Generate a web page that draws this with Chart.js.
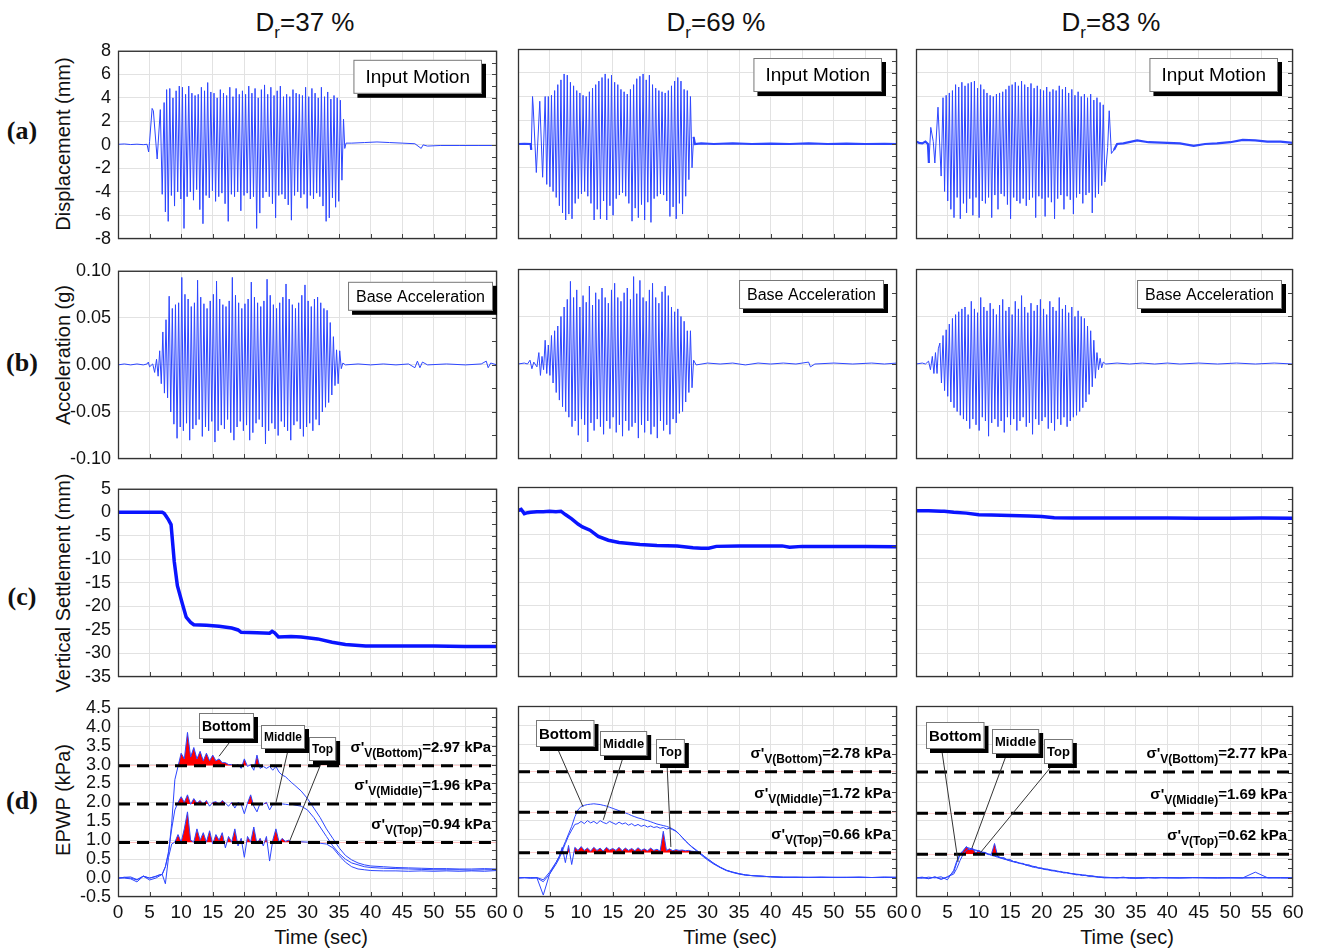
<!DOCTYPE html>
<html>
<head>
<meta charset="utf-8">
<script src="https://cdn.jsdelivr.net/npm/chart.js@4.4.1/dist/chart.umd.min.js"></script>
<style>
  body { margin: 0; background: #fff; width: 1320px; height: 948px; position: relative; overflow: hidden;
         font-family: "Liberation Sans", Arial, sans-serif; color: #111; }
  canvas { position: absolute; }
  .txt { position: absolute; white-space: nowrap; transform: translate(-50%, -50%); }
  .ytitle { font-size: 20px; transform: translate(-50%, -50%) rotate(-90deg); }
  .rowlab { font-family: "Liberation Serif", serif; font-weight: bold; font-size: 26px; }
  .head { font-size: 26px; }
  .head sub { font-size: 17px; vertical-align: -0.45em; line-height: 0; }
  .xtitle { font-size: 20px; }
</style>
</head>
<body>
<div class="txt head" style="left:305px;top:22px">D<sub>r</sub>=37 %</div>
<div class="txt head" style="left:716px;top:22px">D<sub>r</sub>=69 %</div>
<div class="txt head" style="left:1111px;top:22px">D<sub>r</sub>=83 %</div>
<div class="txt rowlab" style="left:22px;top:131px">(a)</div>
<div class="txt rowlab" style="left:22px;top:363px">(b)</div>
<div class="txt rowlab" style="left:22px;top:597px">(c)</div>
<div class="txt rowlab" style="left:22px;top:801px">(d)</div>
<div class="txt ytitle" style="left:63px;top:144px">Displacement (mm)</div>
<div class="txt ytitle" style="left:63px;top:355px">Acceleration (g)</div>
<div class="txt ytitle" style="left:63px;top:583px">Vertical Settlement (mm)</div>
<div class="txt ytitle" style="left:63px;top:800px">EPWP (kPa)</div>
<div class="txt xtitle" style="left:321px;top:937px">Time (sec)</div>
<div class="txt xtitle" style="left:730px;top:937px">Time (sec)</div>
<div class="txt xtitle" style="left:1127px;top:937px">Time (sec)</div>
<script>
// ---------------- data ----------------
const HALF = 0.25; // half period of the 2 Hz shaking, s

// (a) input displacement, mm: quiet/transient parts as [t, v], steady part as alternating peaks
const dispLead37 = [[0,0.05],[1,0.08],[2,0.03],[3,0.06],[4,0.02],[4.6,0.05],[4.85,-0.6],[5.0,0.3],[5.4,3.1],[5.6,2.9],[6.2,-1.2],[6.7,3.0],[7.0,-4.2],[7.3,3.6],[7.5,-5.7]];
const dispStart37 = 7.7;
const dispPos37 = [4.7,4.8,4.0,4.6,5.0,4.9,4.3,5.0,4.4,4.2, 4.3,4.9,4.6,5.3,4.5,4.4,4.0,4.7,4.4,4.2,
  4.9,4.1,4.8,4.3,4.6,4.3,5.0,4.4,4.8,4.0, 4.7,5.1,4.3,4.9,4.2,4.6,5.0,4.1,4.3,4.1,
  4.7,4.4,4.3,4.2,4.9,4.1,4.8,4.4,4.0,4.9, 4.1,4.5,3.9,4.2,4.0];
const dispNeg37 = [-6.5,-4.3,-5.2,-4.0,-4.6,-7.1,-4.4,-4.0,-4.7,-3.8, -5.5,-6.7,-4.3,-4.5,-3.9,-4.8,-4.4,-4.1,-5.0,-6.5,
  -4.2,-4.4,-4.0,-5.6,-4.3,-4.1,-4.6,-4.4,-7.1,-5.8, -4.5,-4.0,-4.4,-5.0,-6.2,-4.3,-4.2,-4.6,-5.1,-6.4,
  -4.3,-4.0,-4.5,-4.2,-5.4,-4.3,-4.6,-4.1,-4.4,-5.2, -6.5,-6.2,-4.5,-5.3,-4.8];
const dispTail37 = [[35.2,3.8],[35.45,-3.0],[35.7,2.2],[35.9,-0.3],[36.1,0.15],[37,0.15],[39,0.2],[41,0.25],[43,0.2],[45,0.15],
  [47,0.1],[48,-0.3],[48.3,0.0],[49,-0.1],[51,-0.05],[54,-0.05],[57,-0.05],[60,-0.05]];

const dispLead69 = [[0,0.0],[1,0.02],[2,0.0],[2.1,-0.5],[2.3,4.0],[2.4,3.2],[2.9,-2.4],[3.45,3.6],[3.9,-2.8]];
const dispStart69 = 4.3;
const dispPos69 = [4.0,4.0,4.1,4.5,5.0,5.4,5.9,5.8,5.2,4.9, 4.5,4.3,4.1,4.0,4.4,4.7,5.0,5.3,5.6,5.9,
  5.5,5.8,5.2,5.0,4.6,4.4,4.2,4.6,5.0,5.5, 5.7,5.9,5.4,5.8,5.0,4.7,4.5,4.4,4.3,4.5,
  4.9,5.3,5.6,5.3,4.6,4.5,4.0];
const dispNeg69 = [-3.4,-3.6,-4.0,-4.5,-5.2,-5.8,-6.4,-5.9,-6.3,-5.0, -4.6,-4.2,-4.0,-4.4,-5.0,-6.4,-5.5,-6.3,-4.8,-6.4,
  -5.2,-6.0,-4.6,-4.3,-4.1,-4.4,-5.0,-6.5,-5.4,-6.2, -5.1,-6.4,-4.9,-6.6,-4.6,-4.4,-4.2,-4.3,-4.8,-6.1,
  -5.3,-6.3,-5.0,-5.9,-4.4,-3.0,-2.0];
const dispTail69 = [[27.8,0.6],[28.0,0.0],[29,0.05],[31,0.0],[34,0.05],[37,0.0],[40,0.03],[43,0.0],[46,0.05],[49,0.0],
  [52,0.03],[55,0.0],[58,0.02],[60,0.0]];

const dispLead83 = [[0,0.2],[0.5,0.1],[1,0.05],[1.5,0.2],[1.9,0.0],[2.05,-1.6],[2.35,1.4],[2.75,0.2],[3.0,-1.6],[3.5,3.1],[4.0,-2.7]];
const dispStart83 = 4.3;
const dispPos83 = [3.9,4.1,4.3,4.5,5.0,4.8,5.2,4.9,5.1,5.2, 5.3,4.7,5.0,4.6,4.3,4.1,4.0,4.2,4.3,4.4,
  4.6,4.9,5.0,5.2,4.9,5.3,5.0,4.8,5.1,4.7, 4.9,4.6,4.5,4.8,4.4,4.6,4.5,4.9,4.6,4.8,
  4.3,4.6,4.1,4.4,4.0,4.2,3.9,4.2,3.7,3.9, 3.5,3.3];
const dispNeg83 = [-4.0,-4.8,-5.5,-6.2,-4.5,-6.3,-5.0,-5.8,-4.6,-6.0, -4.5,-6.2,-4.8,-5.0,-4.5,-6.2,-4.3,-5.5,-4.2,-4.4,
  -5.1,-6.3,-4.5,-4.8,-5.0,-4.6,-5.2,-4.7,-4.5,-6.2, -4.4,-4.6,-6.1,-4.5,-4.9,-6.3,-4.6,-4.3,-5.5,-4.4,
  -4.7,-5.9,-4.5,-4.2,-5.0,-4.3,-4.1,-5.8,-4.5,-4.2, -3.5,-3.2];
const dispTail83 = [[30.5,-0.3],[30.75,2.8],[31.1,-0.8],[31.5,-0.5],[32,0.0],[33,0.05],[35.2,0.3],[37,0.15],[40,0.1],[42,0.05],
  [44.2,-0.15],[46,0.0],[47.9,0.05],[50,0.15],[52,0.35],[54,0.3],[55.9,0.2],[58,0.2],[60,0.1]];

// (b) base acceleration, g
const accLead37 = [[0,0],[1,0.001],[2,0],[3,0.001],[4,0],[4.6,0.001],[4.8,0.003],[5.0,-0.002],[5.5,0.001],[5.8,-0.008],
  [6.1,0.006],[6.35,-0.012],[6.6,0.015],[6.85,-0.02],[7.1,0.035],[7.35,-0.03]];
const accStart37 = 7.6;
const accPos37 = [0.048,0.073,0.06,0.064,0.066,0.093,0.075,0.07,0.062,0.066, 0.09,0.072,0.065,0.06,0.068,0.075,0.089,0.07,0.064,0.062,
  0.068,0.093,0.074,0.066,0.06,0.065,0.07,0.088,0.072,0.066, 0.062,0.068,0.091,0.074,0.064,0.06,0.066,0.072,0.086,0.07,
  0.064,0.06,0.066,0.074,0.085,0.068,0.062,0.07,0.072,0.066, 0.06,0.058,0.045,0.03];
const accNeg37 = [-0.035,-0.05,-0.063,-0.078,-0.066,-0.07,-0.062,-0.08,-0.068,-0.064, -0.058,-0.076,-0.066,-0.07,-0.06,-0.082,-0.07,-0.064,-0.068,-0.058,
  -0.072,-0.08,-0.066,-0.06,-0.07,-0.064,-0.08,-0.072,-0.062,-0.058, -0.066,-0.084,-0.07,-0.062,-0.068,-0.075,-0.06,-0.066,-0.07,-0.08,
  -0.064,-0.06,-0.068,-0.076,-0.066,-0.062,-0.07,-0.058,-0.064,-0.05, -0.045,-0.04,-0.032,-0.022];
const accTail37 = [[34.6,0.016],[34.85,-0.02],[35.1,0.015],[35.35,-0.004],[35.6,0.002],[36,0],[38,0.001],[40,0],[42,0.001],[44,0],
  [46,0.001],[47,-0.003],[47.4,0.004],[47.8,-0.003],[48.2,0.003],[49,0],[52,0.001],[55,0],[57.5,0.001],[58.3,0.004],[58.6,-0.003],[59,0.002],[60,0]];

const accLead69 = [[0,0],[1,0.001],[1.5,0],[1.9,0.004],[2.2,-0.005],[2.5,0.002],[3.0,-0.003],[3.3,0.012],[3.55,-0.012],[3.8,0.008],
  [4.05,-0.006],[4.3,0.025],[4.55,-0.01]];
const accStart69 = 4.8;
const accPos69 = [0.02,0.03,0.035,0.04,0.05,0.06,0.068,0.087,0.07,0.078, 0.06,0.072,0.065,0.082,0.062,0.075,0.068,0.08,0.07,0.064,
  0.078,0.085,0.07,0.066,0.075,0.08,0.068,0.092,0.074,0.088, 0.07,0.066,0.078,0.085,0.07,0.064,0.076,0.082,0.072,0.06,
  0.055,0.058,0.05,0.045,0.035];
const accNeg69 = [-0.012,-0.02,-0.03,-0.038,-0.045,-0.05,-0.056,-0.066,-0.06,-0.075, -0.058,-0.064,-0.082,-0.062,-0.07,-0.058,-0.066,-0.074,-0.06,-0.068,
  -0.056,-0.072,-0.064,-0.076,-0.06,-0.07,-0.066,-0.062,-0.078,-0.064, -0.072,-0.06,-0.074,-0.066,-0.078,-0.06,-0.07,-0.064,-0.074,-0.058,
  -0.062,-0.052,-0.05,-0.04,-0.03];
const accTail69 = [[27.3,0.035],[27.55,-0.025],[27.8,0.004],[28.2,-0.001],[30,0.001],[32,0],[34,0.001],[36,-0.001],[38,0.001],[40,0],
  [42,0.001],[44,0],[46,0.002],[46.3,-0.003],[47,0],[50,0.001],[53,0],[56,0.001],[58,0],[60,0.001]];

const accLead83 = [[0,0],[1,0.001],[1.5,0],[2.0,0.003],[2.3,-0.006],[2.6,0.008],[2.85,-0.01],[3.1,0.012],[3.35,-0.01],[3.55,0.016],
  [3.8,0.022],[4.05,-0.02]];
const accStart83 = 4.3;
const accPos83 = [0.03,0.036,0.042,0.048,0.052,0.055,0.058,0.06,0.052,0.066, 0.058,0.054,0.07,0.06,0.056,0.064,0.058,0.052,0.062,0.068,
  0.056,0.06,0.052,0.066,0.058,0.072,0.06,0.054,0.064,0.056, 0.062,0.068,0.058,0.052,0.066,0.06,0.056,0.07,0.058,0.062,
  0.054,0.06,0.05,0.056,0.05,0.048,0.04,0.035,0.025,0.012];
const accNeg83 = [-0.028,-0.034,-0.04,-0.046,-0.05,-0.054,-0.058,-0.06,-0.068,-0.058, -0.064,-0.07,-0.056,-0.06,-0.076,-0.062,-0.058,-0.066,-0.06,-0.072,
  -0.056,-0.064,-0.058,-0.07,-0.06,-0.056,-0.066,-0.062,-0.074,-0.058, -0.064,-0.06,-0.056,-0.068,-0.062,-0.07,-0.058,-0.064,-0.056,-0.066,
  -0.06,-0.056,-0.054,-0.05,-0.046,-0.04,-0.032,-0.024,-0.015,-0.006];
const accTail83 = [[29.3,0.006],[29.55,-0.004],[29.8,0.002],[30.2,0],[32,0.001],[34,0],[36,0.001],[38,0],[40,0.001],[42,0],
  [45,0.001],[48,0],[51,0.001],[54,0],[57,0.001],[60,0]];

// (c) vertical settlement, mm
const setTime37 = [0,2,4,6,7,7.3,7.6,8,8.4,8.9, 9.4,10.2,10.8,11.5,12,14,16,18,19,19.5, 22,24,24.4,24.8,25.4,27.4,29,31.6,33.9,36, 39.2,45,50,55,60];
const setVal37 = [0,0,0,0,0,-0.2,-0.8,-1.6,-2.6,-10.4, -15.6,-19.5,-22.3,-23.4,-23.9,-24.0,-24.2,-24.6,-25.0,-25.5,
  -25.6,-25.7,-25.3,-25.6,-26.5,-26.4,-26.5,-26.9,-27.6,-28.1, -28.4,-28.4,-28.4,-28.5,-28.5];
const setTime69 = [0,0.5,1,1.5,2,3,4,5,6,6.8, 7.5,8.5,9.5,10.2,11.4,12.7,14.3,16,19.3,22, 25.2,27.7,29,30.2,31.4,35,41.8,43,45,50, 55,60];
const setVal69 = [0,0.3,-0.6,-0.4,-0.3,-0.2,-0.2,-0.1,-0.2,-0.1, -0.8,-1.7,-2.8,-3.4,-4.1,-5.4,-6.2,-6.7,-7.1,-7.3,
  -7.4,-7.8,-7.9,-7.9,-7.5,-7.4,-7.4,-7.7,-7.5,-7.5, -7.5,-7.6];
const setTime83 = [0,2,4,4.5,6,8,10,12,15,18,20,22,25,30,35,40,45,50,55,60];
const setVal83 = [0,0,-0.1,-0.1,-0.3,-0.5,-0.85,-0.9,-1.0,-1.1,-1.2,-1.45,-1.55,-1.55,-1.55,-1.55,-1.6,-1.6,-1.55,-1.6];

// (d) excess pore water pressure, kPa (shared time base)
const epwpTime = [0,1,2,3,4,5,6,6.5,7,7.5,8,8.5,9,9.5,
  10,10.5,11,11.5,12,12.5,13,13.5,14,14.5,15,15.5,16,16.5,17,17.5,18,18.5,19,19.5,
  20,20.5,21,21.5,22,22.5,23,23.5,24,24.5,25,25.5,26,26.5,27,27.5,28,
  29,30,31,32,33,34,35,36,37,38,39,40, 42,44,46,48,50,52,54,56,58,60];
const sigma37 = [2.97, 1.96, 0.94];
const sigma69 = [2.78, 1.72, 0.66];
const sigma83 = [2.77, 1.69, 0.62];

const epwpBottom37 = [0,0.02,0.03,-0.04,0.05,0.0,0.04,0.08,0.1,0.3,0.65,1.45,2.6,2.95,
  3.3,3.15,3.85,3.2,3.45,3.15,3.35,3.1,3.3,3.1,3.25,3.1,3.15,3.05,3.05,3.0,3.0,2.95,3.0,2.9,
  3.15,2.95,3.0,2.85,3.25,2.9,2.95,2.9,2.95,2.85,2.95,2.8,2.72,2.68,2.6,2.52,2.45,
  2.3,2.1,1.85,1.6,1.3,1.05,0.8,0.6,0.48,0.4,0.35,0.32, 0.3,0.28,0.27,0.26,0.25,0.25,0.24,0.24,0.25,0.24];
const epwpMiddle37 = [0,0.02,0.0,-0.05,0.05,0.0,0.05,0.08,0.1,0.3,0.7,1.3,1.8,2.0,
  2.15,2.0,2.2,1.95,2.1,1.98,2.05,1.95,2.05,1.9,2.0,2.02,1.95,2.05,1.98,1.9,2.0,1.85,2.0,1.95,
  1.7,1.98,2.2,1.9,1.75,1.98,1.95,2.0,1.8,1.95,1.97,1.95,1.96,1.95,1.94,1.95,1.93,
  1.9,1.8,1.6,1.35,1.1,0.85,0.65,0.5,0.4,0.35,0.3,0.28, 0.26,0.25,0.24,0.23,0.22,0.22,0.22,0.21,0.22,0.22];
const epwpTop37 = [0,0.0,-0.02,-0.1,0.05,-0.05,0.0,0.05,0.1,-0.15,0.55,0.9,0.95,1.15,
  0.95,1.3,1.75,1.0,0.95,1.3,1.0,1.2,0.95,1.25,0.9,1.15,1.0,1.2,0.8,1.1,0.95,1.3,0.85,1.05,
  0.55,1.1,0.95,1.35,0.9,1.05,0.85,1.1,0.45,1.0,1.3,0.95,1.05,0.97,1.0,0.96,0.95,
  0.96,0.95,0.93,0.92,0.9,0.8,0.6,0.42,0.3,0.24,0.22,0.2, 0.19,0.19,0.18,0.19,0.18,0.19,0.18,0.19,0.18,0.2];

const epwpBottom69 = [0,0.01,0.0,0.01,-0.05,0.15,0.4,0.55,0.75,0.95,1.15,1.35,1.6,1.78,
  1.87,1.9,1.92,1.93,1.94,1.93,1.92,1.9,1.88,1.85,1.82,1.79,1.76,1.73,1.7,1.67,1.63,1.6,1.57,1.55,
  1.52,1.5,1.47,1.44,1.41,1.39,1.37,1.35,1.32,1.28,1.23,1.15,1.06,0.97,0.89,0.82,0.76,
  0.63,0.5,0.38,0.28,0.2,0.15,0.11,0.08,0.06,0.05,0.04,0.03, 0.02,0.02,0.01,0.02,0.01,0.02,0.01,0.01,0.02,0.01];
const epwpMiddle69 = [0,0.0,0.01,0.0,-0.1,0.1,0.35,0.5,0.7,0.9,1.1,1.25,1.4,1.42,
  1.48,1.42,1.5,1.44,1.48,1.42,1.5,1.45,1.42,1.48,1.44,1.4,1.46,1.41,1.44,1.38,1.42,1.36,1.4,1.35,
  1.38,1.33,1.36,1.32,1.34,1.3,1.32,1.28,1.3,1.26,1.22,1.15,1.06,0.97,0.89,0.81,0.74,
  0.6,0.47,0.36,0.27,0.19,0.14,0.1,0.07,0.06,0.05,0.04,0.03, 0.02,0.01,0.02,0.01,0.02,0.01,0.02,0.01,0.01,0.02];
const epwpTop69 = [0,0.01,-0.01,0.0,-0.45,0.1,0.4,0.55,0.8,0.4,0.85,0.35,0.8,0.72,
  0.82,0.72,0.78,0.7,0.8,0.72,0.78,0.7,0.8,0.73,0.77,0.72,0.8,0.71,0.78,0.72,0.77,0.71,0.79,0.72,
  0.76,0.71,0.78,0.72,0.75,0.7,1.22,0.72,0.76,0.71,0.74,0.72,0.73,0.71,0.72,0.7,0.69,
  0.62,0.5,0.38,0.28,0.2,0.15,0.11,0.08,0.06,0.05,0.04,0.03, 0.01,0.02,0.01,0.02,0.01,0.01,0.02,0.01,0.02,0.01];

const epwpBottom83 = [0,0.02,-0.02,0.02,-0.04,0.03,0.1,0.25,0.45,0.62,0.72,0.76,0.74,0.72,
  0.69,0.67,0.64,0.62,0.59,0.57,0.54,0.52,0.49,0.47,0.44,0.42,0.4,0.38,0.36,0.34,0.31,0.29,0.27,0.26,
  0.24,0.22,0.21,0.19,0.18,0.17,0.15,0.14,0.13,0.12,0.1,0.09,0.08,0.07,0.06,0.05,0.04,
  0.02,0.01,0.0,0.01,0.0,0.01,0.0,-0.01,0.01,0.0,0.01,0.0, 0.0,0.01,0.0,0.0,0.01,0.0,0.0,0.01,0.0,0.0];
const epwpMiddle83 = [0,-0.01,0.02,0.0,0.03,-0.05,0.2,0.45,0.62,0.72,0.8,0.78,0.75,0.73,
  0.71,0.68,0.66,0.63,0.61,0.58,0.56,0.53,0.51,0.48,0.46,0.43,0.41,0.39,0.37,0.35,0.33,0.31,0.29,0.27,
  0.25,0.24,0.22,0.21,0.19,0.18,0.16,0.15,0.14,0.12,0.11,0.1,0.09,0.08,0.07,0.06,0.05,
  0.03,0.02,0.01,0.0,0.01,0.0,-0.01,0.0,0.01,0.0,0.0,0.01, 0.0,0.0,0.01,0.0,0.0,0.0,0.01,0.0,0.0,0.0];
const epwpTop83 = [0,0.01,-0.02,0.03,-0.03,0.02,0.15,0.4,0.6,0.7,0.82,0.74,0.78,0.65,
  0.72,0.66,0.67,0.61,0.62,0.9,0.57,0.52,0.53,0.47,0.48,0.43,0.42,0.38,0.38,0.33,0.34,0.29,0.3,0.25,
  0.26,0.22,0.23,0.19,0.2,0.16,0.17,0.13,0.14,0.11,0.11,0.08,0.09,0.06,0.07,0.04,0.05,
  0.02,0.0,0.01,0.0,0.02,-0.01,0.0,0.01,0.0,0.0,0.01,0.0, 0.0,0.01,0.0,0.0,0.0,0.0,0.15,0.0,0.01,0.0];

// ---------------- layout ----------------
const COLS = [{left: 118, right: 497}, {left: 518, right: 897}, {left: 916, right: 1293}];
const ROWS = [{top: 49, bottom: 239}, {top: 269, bottom: 459}, {top: 487, bottom: 677}, {top: 706, bottom: 897}];
const AXES = [
  {min: -8, max: 8, step: 2, dec: 0},
  {min: -0.1, max: 0.1, step: 0.05, dec: 2},
  {min: -35, max: 5, step: 5, dec: 0},
  {min: -0.5, max: 4.5, step: 0.5, dec: 1}
];
const YW = 60, XH = 45, PT = 16, PR = 16;
const FONT = '"Liberation Sans", Arial, sans-serif';
const BLUE = 'rgb(45,70,255)';

Chart.defaults.font.family = FONT;

function shaking(lead, start, pos, neg, tail) {
  const pts = lead.map(([x, y]) => ({x, y}));
  pos.forEach((v, i) => {
    pts.push({x: start + 2 * HALF * i, y: v});
    if (i < neg.length) pts.push({x: start + 2 * HALF * i + HALF, y: neg[i]});
  });
  tail.forEach(([x, y]) => pts.push({x, y}));
  return pts;
}
const pairs = (xs, ys) => xs.map((x, i) => ({x, y: ys[i]}));

function shadowBox(ctx, x, y, w, h, text, font) {
  ctx.fillStyle = '#000';
  ctx.fillRect(x + 4, y + 4, w, h);
  ctx.fillStyle = '#fff';
  ctx.fillRect(x, y, w, h);
  ctx.strokeStyle = '#777';
  ctx.lineWidth = 1;
  ctx.strokeRect(x + 0.5, y + 0.5, w - 1, h - 1);
  ctx.fillStyle = '#000';
  ctx.font = font;
  ctx.textAlign = 'center';
  ctx.textBaseline = 'middle';
  ctx.fillText(text, x + w / 2, y + h / 2 + 1);
}

function sigmaLabel(ctx, xr, yc, sub, val) {
  const big = 'bold 15px ' + FONT, small = 'bold 12px ' + FONT;
  ctx.font = big;
  const w1 = ctx.measureText("σ'").width, w3 = ctx.measureText(val).width;
  ctx.font = small;
  const w2 = ctx.measureText(sub).width;
  const x0 = xr - w1 - w2 - w3;
  ctx.fillStyle = '#000';
  ctx.textAlign = 'left';
  ctx.textBaseline = 'alphabetic';
  ctx.font = big; ctx.fillText("σ'", x0, yc + 5);
  ctx.font = small; ctx.fillText(sub, x0 + w1, yc + 10);
  ctx.font = big; ctx.fillText(val, x0 + w1 + w2, yc + 5);
}

const framePlugin = {
  id: 'frame',
  afterDatasetsDraw(chart, args, o) {
    const {ctx, chartArea: a} = chart;
    const x = chart.scales.x, y = chart.scales.y;
    ctx.save();
    // inward ticks: every half step on the right, every 5 s on the bottom
    ctx.strokeStyle = '#444';
    ctx.lineWidth = 1;
    ctx.beginPath();
    const n = Math.round((y.max - y.min) / (o.step / 2));
    for (let i = 1; i < n; i++) {
      const py = Math.round(y.getPixelForValue(y.min + i * o.step / 2)) + 0.5;
      ctx.moveTo(a.right, py); ctx.lineTo(a.right - 5, py);
    }
    for (let t = 5; t < 60; t += 5) {
      const px = Math.round(x.getPixelForValue(t)) + 0.5;
      ctx.moveTo(px, a.bottom); ctx.lineTo(px, a.bottom - 5);
    }
    ctx.stroke();
    ctx.strokeStyle = '#333';
    ctx.lineWidth = 1.3;
    ctx.strokeRect(a.left + 0.5, a.top + 0.5, a.width - 1, a.height - 1);

    if (o.tag) {
      const g = o.tag;
      ctx.font = g.font;
      const bw = ctx.measureText(g.text).width + 2 * g.pad;
      shadowBox(ctx, a.right - g.right - bw, a.top + g.top, bw, g.h, g.text, g.font);
    }
    if (o.notes) {
      ctx.strokeStyle = '#333';
      ctx.lineWidth = 1;
      o.notes.forEach(nt => {
        ctx.beginPath();
        ctx.moveTo(x.getPixelForValue(nt.fx), y.getPixelForValue(nt.fy));
        ctx.lineTo(x.getPixelForValue(nt.tx), y.getPixelForValue(nt.ty));
        ctx.stroke();
      });
      o.notes.forEach(nt => {
        const font = 'bold ' + nt.size + 'px ' + FONT;
        ctx.font = font;
        const bw = ctx.measureText(nt.text).width + 6, bh = nt.size + 12;
        const cx = x.getPixelForValue(nt.cx), cy = y.getPixelForValue(nt.cy);
        shadowBox(ctx, Math.round(cx - bw / 2), Math.round(cy - bh / 2), bw, bh, nt.text, font);
      });
    }
    if (o.sigmas) {
      const subs = ['V(Bottom)', 'V(Middle)', 'V(Top)'];
      o.sigmas.forEach((s, i) => {
        sigmaLabel(ctx, a.right - 6, y.getPixelForValue(s + 0.5), subs[i], '=' + s.toFixed(2) + ' kPa');
      });
    }
    ctx.restore();
  }
};

function makePanel(row, col, datasets, extra) {
  const C = COLS[col], R = ROWS[row], ax = AXES[row];
  const w = YW + (C.right - C.left) + PR, h = PT + (R.bottom - R.top) + XH;
  const cv = document.createElement('canvas');
  cv.width = w; cv.height = h;
  cv.style.left = (C.left - YW) + 'px';
  cv.style.top = (R.top - PT) + 'px';
  cv.style.width = w + 'px';
  cv.style.height = h + 'px';
  document.body.appendChild(cv);
  new Chart(cv, {
    type: 'line',
    data: {datasets},
    options: {
      responsive: false,
      animation: false,
      devicePixelRatio: 1,
      events: [],
      layout: {padding: {top: PT, right: PR, left: 0, bottom: 0}},
      elements: {point: {radius: 0}, line: {tension: 0}},
      plugins: {legend: {display: false}, tooltip: {enabled: false}, frame: Object.assign({step: ax.step}, extra)},
      scales: {
        x: {
          type: 'linear', min: 0, max: 60,
          afterFit: s => { s.height = XH; },
          ticks: {display: row === 3, stepSize: 5, autoSkip: false, maxRotation: 0, padding: 4,
                  color: '#111', font: {size: 19, family: FONT}},
          grid: {color: '#e2e2e2', drawTicks: false},
          border: {display: false}
        },
        y: {
          type: 'linear', min: ax.min, max: ax.max,
          afterFit: s => { s.width = YW; },
          ticks: {display: col === 0, stepSize: ax.step, autoSkip: false, padding: 7, color: '#111',
                  font: {size: 18, family: FONT},
                  callback: v => (Math.abs(v) < 1e-9 ? 0 : v).toFixed(ax.dec)},
          grid: {color: '#e2e2e2', drawTicks: false},
          border: {display: false}
        }
      }
    },
    plugins: [framePlugin]
  });
}

// ---------------- build the 12 panels ----------------
const disp = [
  {pts: shaking(dispLead37, dispStart37, dispPos37, dispNeg37, dispTail37), quiet: [-1, 99]},
  {pts: shaking(dispLead69, dispStart69, dispPos69, dispNeg69, dispTail69), quiet: [2.05, 27.7]},
  {pts: shaking(dispLead83, dispStart83, dispPos83, dispNeg83, dispTail83), quiet: [1.95, 31.2]}
];
const inputTag = [15, 15, 15];
disp.forEach((d, c) => {
  makePanel(0, c, [{
    data: d.pts, borderColor: BLUE, borderWidth: 1,
    segment: {borderWidth: s => (s.p0.parsed.x < d.quiet[0] || s.p0.parsed.x > d.quiet[1]) ? 2.2 : 1}
  }], {tag: {text: 'Input Motion', font: '19px ' + FONT, pad: 12, h: 34, top: 9, right: inputTag[c]}});
});

const acc = [
  shaking(accLead37, accStart37, accPos37, accNeg37, accTail37),
  shaking(accLead69, accStart69, accPos69, accNeg69, accTail69),
  shaking(accLead83, accStart83, accPos83, accNeg83, accTail83)
];
const baseTag = [4, 13, 11];
acc.forEach((pts, c) => {
  makePanel(1, c, [{data: pts, borderColor: BLUE, borderWidth: 1}],
    {tag: {text: 'Base Acceleration', font: '16px ' + FONT, pad: 8, h: 29, top: 11, right: baseTag[c]}});
});

const settle = [pairs(setTime37, setVal37), pairs(setTime69, setVal69), pairs(setTime83, setVal83)];
settle.forEach((pts, c) => {
  makePanel(2, c, [{data: pts, borderColor: 'rgb(10,20,255)', borderWidth: 3.5}], {});
});

const epwp = [
  {sig: sigma37, b: epwpBottom37, m: epwpMiddle37, t: epwpTop37},
  {sig: sigma69, b: epwpBottom69, m: epwpMiddle69, t: epwpTop69},
  {sig: sigma83, b: epwpBottom83, m: epwpMiddle83, t: epwpTop83}
];
const epwpNotes = [
  [{text: 'Bottom', size: 14, cx: 17.25, cy: 4.03, fx: 17.9, fy: 3.64, tx: 16.0, ty: 3.22},
   {text: 'Middle', size: 12, cx: 26.2, cy: 3.74, fx: 26.9, fy: 3.37, tx: 25.0, ty: 1.99},
   {text: 'Top', size: 12, cx: 32.4, cy: 3.40, fx: 32.3, fy: 3.09, tx: 27.2, ty: 0.99}],
  [{text: 'Bottom', size: 15, cx: 7.44, cy: 3.77, fx: 6.3, fy: 3.37, tx: 10.3, ty: 1.86},
   {text: 'Middle', size: 13, cx: 16.7, cy: 3.51, fx: 16.6, fy: 3.14, tx: 13.5, ty: 1.52},
   {text: 'Top', size: 13, cx: 24.1, cy: 3.32, fx: 23.6, fy: 2.96, tx: 24.2, ty: 0.81}],
  [{text: 'Bottom', size: 15, cx: 6.2, cy: 3.74, fx: 4.1, fy: 3.35, tx: 6.7, ty: 0.42},
   {text: 'Middle', size: 13, cx: 15.8, cy: 3.56, fx: 14.2, fy: 3.14, tx: 8.9, ty: 0.78},
   {text: 'Top', size: 13, cx: 22.7, cy: 3.31, fx: 21.6, fy: 2.93, tx: 10.2, ty: 0.65}]
];
const dashed = s => ({data: [{x: 0, y: s}, {x: 60, y: s}], borderColor: '#000', borderWidth: 3, borderDash: [12, 7], fill: false});
const trace = (vals, s) => ({
  data: pairs(epwpTime, vals), borderColor: BLUE, borderWidth: 1,
  fill: {target: {value: s}, above: 'rgb(255,0,0)', below: 'rgba(255,255,255,0)'}
});
epwp.forEach((e, c) => {
  makePanel(3, c, [
    dashed(e.sig[0]), dashed(e.sig[1]), dashed(e.sig[2]),
    trace(e.b, e.sig[0]), trace(e.m, e.sig[1]), trace(e.t, e.sig[2])
  ], {notes: epwpNotes[c], sigmas: e.sig});
});
</script>
</body>
</html>
